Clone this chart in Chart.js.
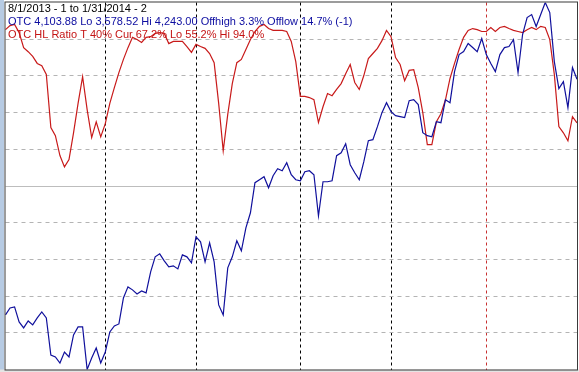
<!DOCTYPE html>
<html>
<head>
<meta charset="utf-8">
<title>OTC HL Ratio</title>
<script src="https://cdn.jsdelivr.net/npm/chart.js@4.4.1/dist/chart.umd.min.js"></script>
<style>
    html, body { margin: 0; padding: 0; background: #ffffff; }
    #wrap { width: 579px; height: 372px; }
</style>
</head>
<body>
<div id="wrap"><canvas id="lineChart" width="579" height="372"></canvas></div>
<script>
// trading days per month, 8/1/2013 to 1/31/2014
const months = ['Aug', 'Sep', 'Oct', 'Nov', 'Dec', 'Jan'];
const daysPerMonth = [22, 20, 23, 20, 21, 21];

// OTC close (blue, left scale)
const otcValues = [
    3677.3, 3690.0, 3691.8, 3664.6, 3653.8, 3666.4, 3659.2, 3671.9, 3682.8, 3671.9,
    3604.8, 3601.2, 3590.3, 3610.2, 3601.2, 3641.0, 3655.6, 3655.6, 3578.52, 3599.4,
    3617.5, 3590.3, 3610.2, 3646.5, 3657.4, 3661.0, 3708.1, 3728.1, 3722.7, 3715.4,
    3720.8, 3717.2, 3755.3, 3782.5, 3787.9, 3775.2, 3764.4, 3766.2, 3760.7, 3786.1,
    3782.5, 3771.6, 3818.7, 3809.7, 3773.4, 3807.9, 3773.4, 3695.5, 3677.3, 3762.5,
    3782.5, 3811.5, 3793.4, 3835.1, 3862.3, 3916.7, 3922.1, 3927.5, 3907.6, 3929.4,
    3942.1, 3938.4, 3952.9, 3931.2, 3922.1, 3920.3, 3936.6, 3938.4, 3931.2, 3856.8,
    3918.5, 3918.5, 3920.3, 3965.6, 3971.0, 3987.4, 3949.3, 3934.8, 3922.1, 3954.7,
    3992.8, 3994.6, 4018.2, 4043.6, 4061.7, 4045.4, 4038.1, 4036.3, 4034.5, 4065.3,
    4067.1, 4058.1, 4007.3, 4001.9, 4000.0, 4027.2, 4025.4, 4067.1, 4061.7, 4117.9,
    4148.7, 4154.1, 4168.7, 4161.4, 4154.1, 4177.7, 4148.7, 4132.4, 4117.9, 4148.7,
    4161.4, 4163.2, 4175.9, 4116.1, 4185.0, 4215.8, 4221.2, 4199.5, 4221.2, 4243.00,
    4224.8, 4136.0, 4087.1, 4099.8, 4052.6, 4125.1, 4103.88
];

// OTC HL ratio in percent (red, right scale)
const hlRatio = [
    92.6, 93.7, 94.0, 91.8, 87.7, 86.6, 85.3, 83.4, 82.8, 80.4,
    65.9, 63.7, 58.3, 55.2, 57.2, 64.5, 72.5, 79.8, 70.8, 63.2,
    67.5, 63.4, 67.0, 72.5, 76.8, 80.9, 84.5, 87.7, 90.5, 89.9,
    89.1, 90.5, 90.7, 91.6, 91.8, 91.6, 88.8, 89.4, 89.4, 89.4,
    88.0, 86.4, 88.6, 88.0, 87.5, 86.1, 83.6, 72.5, 59.6, 69.5,
    77.9, 83.6, 84.5, 87.2, 89.9, 92.1, 93.5, 94.0, 92.9, 92.4,
    92.4, 92.4, 92.1, 89.4, 83.9, 74.4, 74.4, 74.1, 73.5, 67.3,
    71.6, 75.2, 74.6, 76.3, 77.9, 80.6, 83.1, 78.2, 76.3, 80.1,
    84.7, 86.1, 87.5, 89.6, 92.4, 90.7, 85.0, 83.1, 78.7, 81.5,
    81.7, 76.8, 70.0, 61.3, 61.3, 67.5, 69.7, 73.5, 79.3, 83.4,
    87.2, 90.5, 92.4, 92.9, 92.6, 92.1, 92.1, 93.2, 92.1, 93.2,
    93.5, 92.9, 92.4, 92.1, 91.8, 92.6, 93.2, 92.6, 93.5, 93.2,
    89.9, 80.4, 66.2, 64.5, 62.3, 68.9, 67.2
];

const otcLo = 3578.52;
const otcHi = 4243.00;
const ratioTicks = [0, 10, 20, 30, 40, 50, 60, 70, 80, 90, 100];

const headerLines = [
    { text: '8/1/2013 - 1 to 1/31/2014 - 2', color: '#000000' },
    { text: 'OTC 4,103.88 Lo 3,578.52 Hi 4,243.00 Offhigh 3.3% Offlow 14.7% (-1)', color: '#0c0ca0' },
    { text: 'OTC HL Ratio T 40% Cur 67.2% Lo 55.2% Hi 94.0%', color: '#c41414' }
];

document.addEventListener('DOMContentLoaded', function () {
    const ctx = document.getElementById('lineChart').getContext('2d');

    // labels like "Aug 1" ... and index of the first day of each month
    const labels = [];
    const monthStarts = [];
    months.forEach(function (m, k) {
        monthStarts.push(labels.length);
        for (let d = 1; d <= daysPerMonth[k]; d++) labels.push(m + ' ' + d);
    });
    const yearStart = monthStarts[months.indexOf('Jan')];

    // frame, solid 50% line and the header text
    const framePlugin = {
        id: 'frame',
        beforeDraw(chart) {
            const c = chart.ctx;
            const a = chart.chartArea;
            c.save();
            c.fillStyle = '#ffffff';
            c.fillRect(0, 0, chart.width, chart.height);
            c.fillStyle = '#b7cbe3';
            c.fillRect(0, 0, 4, chart.height);
            c.fillStyle = '#e4e4e4';
            c.fillRect(0, a.bottom, chart.width, chart.height - a.bottom);
            c.restore();
        },
        beforeDatasetsDraw(chart) {
            const c = chart.ctx;
            const a = chart.chartArea;
            const y = Math.round(chart.scales.y1.getPixelForValue(50)) + 0.5;
            c.save();
            c.strokeStyle = '#bdbdbd';
            c.lineWidth = 1;
            c.beginPath();
            c.moveTo(a.left, y);
            c.lineTo(a.right, y);
            c.stroke();
            c.restore();
        },
        afterDraw(chart) {
            const c = chart.ctx;
            const a = chart.chartArea;
            c.save();
            c.strokeStyle = '#3a3a3a';
            c.lineWidth = 1;
            c.strokeRect(a.left - 0.5, a.top - 0.5, a.right - a.left + 1, a.bottom - a.top + 1);
            c.font = '11px "Liberation Sans", Arial, sans-serif';
            c.textBaseline = 'middle';
            headerLines.forEach(function (h, k) {
                c.fillStyle = h.color;
                c.fillText(h.text, 8, 8.5 + k * 13);
            });
            c.restore();
        }
    };

    const lineChart = new Chart(ctx, {
        type: 'line',
        data: {
            labels: labels,
            datasets: [{
                label: 'OTC',
                data: otcValues,
                yAxisID: 'y',
                borderColor: '#10109c',
                borderWidth: 1.2,
                pointRadius: 0,
                fill: false,
                tension: 0
            }, {
                label: 'OTC HL Ratio',
                data: hlRatio,
                yAxisID: 'y1',
                borderColor: '#c81a1a',
                borderWidth: 1.2,
                pointRadius: 0,
                fill: false,
                tension: 0
            }]
        },
        options: {
            responsive: false,
            animation: false,
            devicePixelRatio: 1,
            layout: {
                padding: { left: 5.5, top: 2.5, right: 2, bottom: 2.5 }
            },
            plugins: {
                legend: { display: false },
                tooltip: { enabled: false }
            },
            scales: {
                x: {
                    type: 'category',
                    offset: false,
                    ticks: { display: false, autoSkip: false },
                    border: { display: false, dash: [3, 3] },
                    grid: {
                        drawTicks: false,
                        offset: false,
                        lineWidth: 1,
                        color: function (c) {
                            if (c.index === yearStart) return '#c83030';
                            return monthStarts.indexOf(c.index) > 0 ? '#000000' : 'rgba(0,0,0,0)';
                        }
                    },
                    afterFit: function (s) { s.height = 0; }
                },
                y: {
                    display: false,
                    min: otcLo,
                    max: otcHi
                },
                y1: {
                    position: 'right',
                    min: ratioTicks[0],
                    max: ratioTicks[ratioTicks.length - 1],
                    afterBuildTicks: function (s) {
                        s.ticks = ratioTicks.map(function (v) { return { value: v }; });
                    },
                    ticks: { display: false },
                    border: { display: false, dash: [4, 4] },
                    grid: {
                        drawTicks: false,
                        lineWidth: 1,
                        color: function (c) {
                            const v = c.tick ? c.tick.value : null;
                            return (v === 0 || v === 100 || v === 50) ? 'rgba(0,0,0,0)' : '#b4b4b4';
                        }
                    },
                    afterFit: function (s) { s.width = 0; }
                }
            }
        },
        plugins: [framePlugin]
    });
});
</script>
</body>
</html>
